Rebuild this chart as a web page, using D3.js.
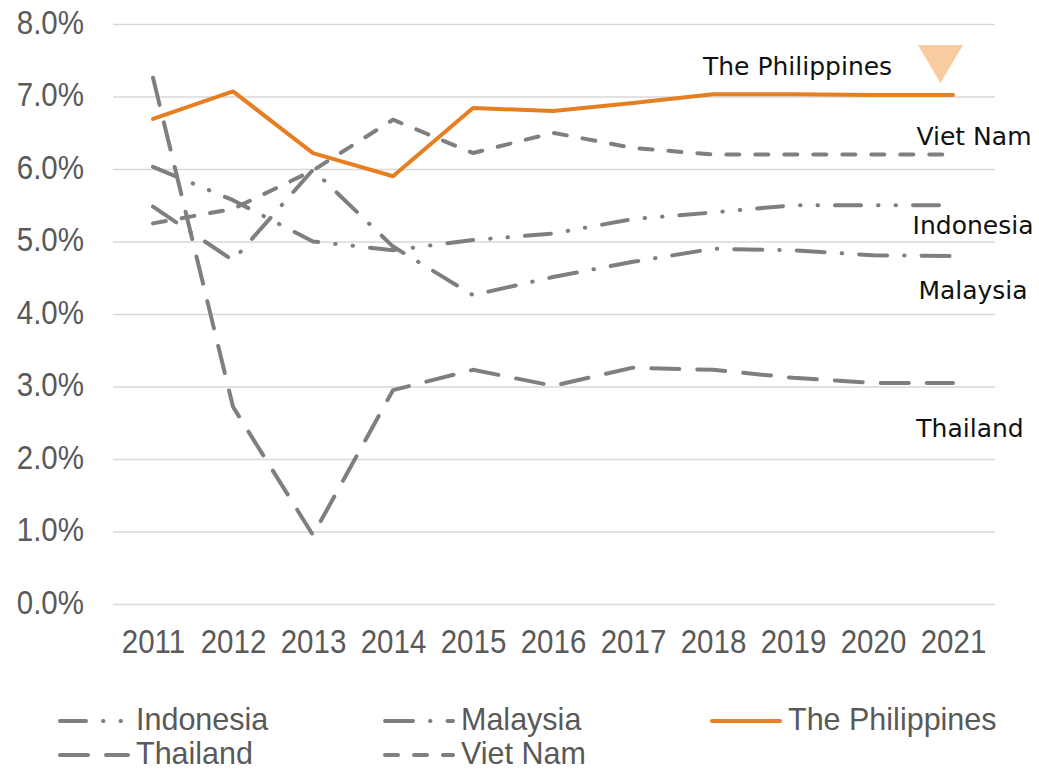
<html>
<head>
  <title>ASEAN growth</title>
  <script src='https://d3js.org/d3.v7.min.js'></script>
</head>
<style type="text/css">
body { margin: 0; background: #fff; }
.tick text { font-family: "Liberation Sans", Arial, sans-serif; font-size: 29.5px; fill: #595959; }
.legend text { font-family: "Liberation Sans", Arial, sans-serif; font-size: 30.5px; fill: #595959; }
.note { font-family: "DejaVu Sans", Verdana, sans-serif; font-size: 25px; fill: #111; }
</style>
<body>
<script>

var years = [2011, 2012, 2013, 2014, 2015, 2016, 2017, 2018, 2019, 2020, 2021];
var yTicks = [0, 0.01, 0.02, 0.03, 0.04, 0.05, 0.06, 0.07, 0.08];

var indonesia   = [6.03, 5.57, 5.00, 4.88, 5.02, 5.11, 5.31, 5.40, 5.50, 5.50, 5.50];
var malaysia    = [5.48, 4.74, 5.99, 4.93, 4.26, 4.51, 4.72, 4.90, 4.88, 4.81, 4.80];
var philippines = [6.69, 7.07, 6.22, 5.90, 6.84, 6.80, 6.91, 7.03, 7.03, 7.02, 7.02];
var thailand    = [7.26, 2.72, 0.95, 2.95, 3.23, 3.01, 3.26, 3.23, 3.12, 3.05, 3.05];
var vietnam     = [5.25, 5.45, 5.98, 6.68, 6.22, 6.50, 6.29, 6.20, 6.20, 6.20, 6.20];

var names = ["Indonesia", "Malaysia", "The Philippines", "Thailand", "Viet Nam"];

var grey = "#7f7f7f",
    orange = "#e67e22";

var series = [
  {name: names[0], values: indonesia, color: grey, dash: "26,17,0.5,17,0.5,17"},
  {name: names[1], values: malaysia, color: grey, dash: "28,17,0.5,17"},
  {name: names[2], values: philippines, color: orange, dash: null},
  {name: names[3], values: thailand, color: grey, dash: "28,18"},
  {name: names[4], values: vietnam, color: grey, dash: "13,16"}
];

// label placement beside the lines (pixel offsets)
var notes = [
  {name: "The Philippines", x: 703, y: 75, anchor: "start"},
  {name: "Viet Nam", x: 974, y: 145, anchor: "middle"},
  {name: "Indonesia", x: 973, y: 234, anchor: "middle"},
  {name: "Malaysia", x: 973, y: 299, anchor: "middle"},
  {name: "Thailand", x: 970, y: 437, anchor: "middle"}
];

var width = 1039,
    height = 770,
    plot = {left: 113, right: 995, top: 24, bottom: 604},
    stretch = 1.1;   // axis text in the source is a bit taller than wide

var svg = d3.select('body')
            .append('svg')
            .attr('width', width)
            .attr('height', height);

var x = d3.scalePoint()
          .domain(years)
          .range([plot.left, plot.right - 2])
          .padding(0.5);

var y = d3.scaleLinear()
          .domain([0, 0.08])
          .range([plot.bottom, plot.top]);

// gridlines + y labels
var yAxis = svg.append('g')
   .attr('transform', 'translate(' + plot.left + ',0)')
   .call(d3.axisLeft(y)
           .tickValues(yTicks)
           .tickSize(-(plot.right - plot.left))
           .tickPadding(29)
           .tickFormat(d3.format(".1%")));
yAxis.select('.domain').remove();
yAxis.selectAll('.tick line').attr('stroke', '#d9d9d9').attr('stroke-width', 1.5);
yAxis.selectAll('.tick text')
     .attr('dy', (0.32 * 29.5 / stretch) + 'px')
     .attr('transform', 'scale(1,' + stretch + ')');

var xAxis = svg.append('g')
   .attr('transform', 'translate(0,' + plot.bottom + ')')
   .call(d3.axisBottom(x).tickSize(0).tickPadding(0));
xAxis.select('.domain').remove();
xAxis.selectAll('.tick text')
     .attr('y', 49 / stretch)
     .attr('dy', 0)
     .attr('transform', 'scale(1,' + stretch + ')');

var line = d3.line()
             .x(function(d, i) { return x(years[i]); })
             .y(function(d) { return y(d / 100); });

// draw grey first, orange on top
var order = [3, 0, 1, 4, 2];
svg.selectAll('.series')
   .data(order.map(function(k) { return series[k]; }))
   .enter()
   .append('path')
   .attr('class', 'series')
   .attr('d', function(d) { return line(d.values); })
   .attr('fill', 'none')
   .attr('stroke', function(d) { return d.color; })
   .attr('stroke-width', 4)
   .attr('stroke-linecap', 'round')
   .attr('stroke-linejoin', 'round')
   .attr('stroke-dasharray', function(d) { return d.dash; });

svg.selectAll('.note')
   .data(notes)
   .enter()
   .append('text')
   .attr('class', 'note')
   .attr('x', function(d) { return d.x; })
   .attr('y', function(d) { return d.y; })
   .attr('text-anchor', function(d) { return d.anchor; })
   .text(function(d) { return d.name; });

// downward marker next to The Philippines
svg.append('path')
   .attr('d', 'M918,45 L963,45 L940.5,83 Z')
   .attr('fill', '#f8cba0');

// legend
var legendPos = [
  {x: 58, y: 721}, {x: 383, y: 721}, {x: 710, y: 721},
  {x: 58, y: 755}, {x: 383, y: 755}
];

var legend = svg.append('g').attr('class', 'legend');
var item = legend.selectAll('g')
   .data(series)
   .enter()
   .append('g')
   .attr('transform', function(d, i) { return 'translate(' + legendPos[i].x + ',' + legendPos[i].y + ')'; });

item.append('line')
    .attr('x1', 2)
    .attr('x2', 70)
    .attr('stroke', function(d) { return d.color; })
    .attr('stroke-width', 4)
    .attr('stroke-linecap', 'round')
    .attr('stroke-dasharray', function(d) { return d.dash; });

item.append('text')
    .attr('x', 78)
    .attr('y', 9)
    .text(function(d) { return d.name; });

</script>
</body>
</html>
